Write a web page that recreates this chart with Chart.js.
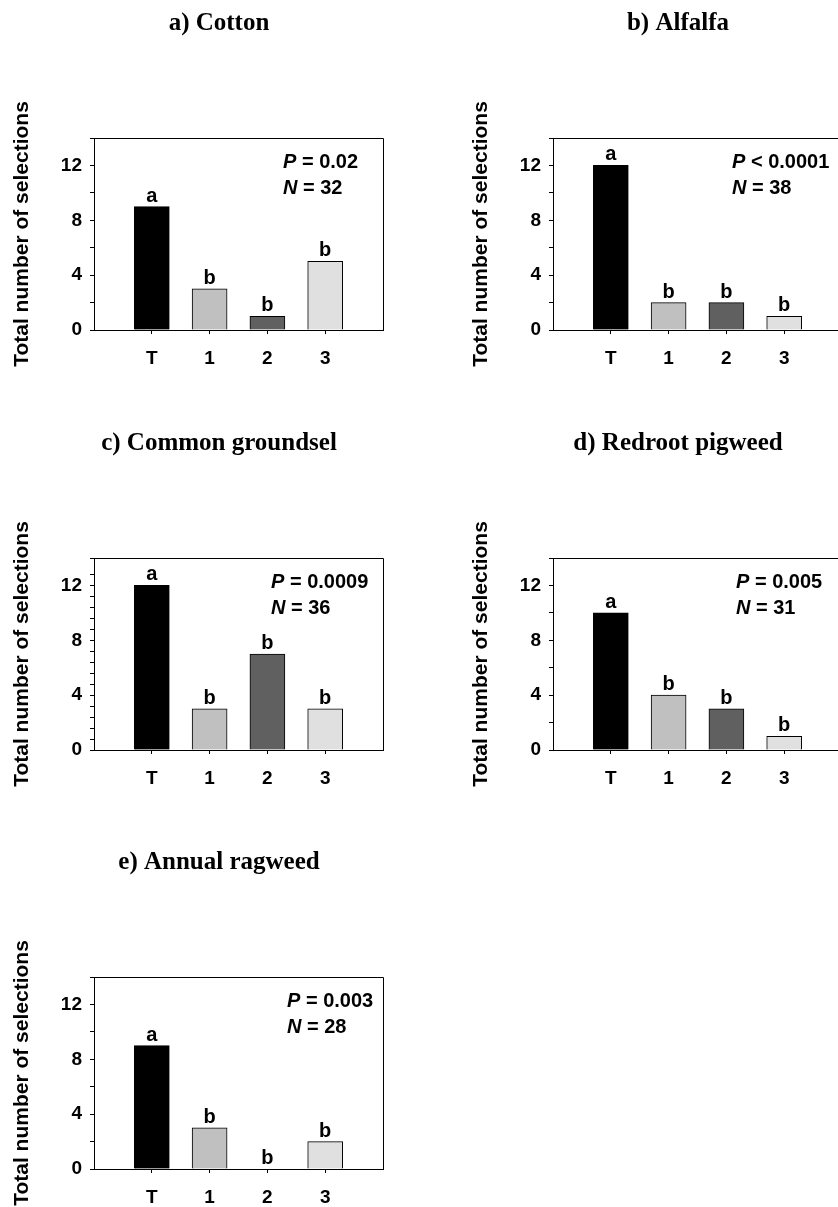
<!DOCTYPE html>
<html>
<head>
<meta charset="utf-8">
<script src="https://cdn.jsdelivr.net/npm/chart.js@4.4.0/dist/chart.umd.min.js"></script>
<style>
html, body { margin: 0; padding: 0; background: #fff; overflow: hidden; width: 838px; height: 1207px; }
canvas { position: absolute; }
</style>
</head>
<body>
<canvas id="chartA" width="438" height="420" style="left:0px;top:0px"></canvas>
<canvas id="chartB" width="438" height="420" style="left:459px;top:0px"></canvas>
<canvas id="chartC" width="438" height="420" style="left:0px;top:420px"></canvas>
<canvas id="chartD" width="438" height="420" style="left:459px;top:420px"></canvas>
<canvas id="chartE" width="438" height="420" style="left:0px;top:839px"></canvas>
<script>
var categories = ['T', '1', '2', '3'];
var yLabels = [0, 4, 8, 12];
var barColors = ['#000000', '#c0c0c0', '#606060', '#e0e0e0'];
var letters = ['a', 'b', 'b', 'b'];

var titles = ['a) Cotton', 'b) Alfalfa', 'c) Common groundsel', 'd) Redroot pigweed', 'e) Annual ragweed'];
var cotton = [9, 3, 1, 5];
var alfalfa = [12, 2, 2, 1];
var groundsel = [12, 3, 7, 3];
var pigweed = [10, 4, 3, 1];
var ragweed = [9, 3, 0, 2];
var pText = ['= 0.02', '< 0.0001', '= 0.0009', '= 0.005', '= 0.003'];
var nText = ['32', '38', '36', '31', '28'];

var sans = 'Liberation Sans';

function drawStat(ctx, sym, rest, x, y) {
    ctx.textAlign = 'left';
    ctx.font = 'italic bold 20px "' + sans + '"';
    ctx.fillText(sym, x, y);
    var w = ctx.measureText(sym).width;
    ctx.font = 'bold 20px "' + sans + '"';
    ctx.fillText(rest, x + w, y);
}

// frame, letters over bars, P / N text and panel title
function panelDecor(idx, values, statX) {
    return {
        id: 'panelDecor',
        afterDraw: function(chart) {
            var ctx = chart.ctx, area = chart.chartArea;
            var xs = chart.scales.x, ys = chart.scales.y;
            ctx.save();
            ctx.strokeStyle = '#000';
            ctx.lineWidth = 1;
            ctx.beginPath();
            ctx.moveTo(area.left, Math.round(area.top) + 0.5);
            ctx.lineTo(Math.round(area.right) + 0.5, Math.round(area.top) + 0.5);
            ctx.lineTo(Math.round(area.right) + 0.5, area.bottom);
            ctx.stroke();

            ctx.fillStyle = '#000';
            ctx.font = 'bold 20px "' + sans + '"';
            ctx.textAlign = 'center';
            ctx.textBaseline = 'alphabetic';
            values.forEach(function(v, i) {
                ctx.fillText(letters[i], xs.getPixelForValue(i + 1), ys.getPixelForValue(v) - 5);
            });

            drawStat(ctx, 'P', ' ' + pText[idx], area.left + statX, area.top + 30);
            drawStat(ctx, 'N', ' = ' + nText[idx], area.left + statX, area.top + 56);

            ctx.font = 'bold 25px "Liberation Serif"';
            ctx.textAlign = 'center';
            ctx.textBaseline = 'middle';
            ctx.fillText(titles[idx], area.left + 125, area.top - 114);
            ctx.restore();
        }
    };
}

function makeChart(id, idx, values, statX, minorStep) {
    var tickFont = { family: sans, size: 19, weight: 'bold' };
    return new Chart(document.getElementById(id).getContext('2d'), {
        type: 'bar',
        data: {
            datasets: [{
                data: values.map(function(v, i) { return { x: i + 1, y: v }; }),
                backgroundColor: barColors,
                borderColor: '#000',
                borderWidth: 1,
                barThickness: 35
            }]
        },
        options: {
            responsive: false,
            animation: false,
            events: [],
            layout: { padding: { top: 138, left: 0, right: 55, bottom: 50 } },
            plugins: { legend: { display: false }, tooltip: { enabled: false } },
            scales: {
                x: {
                    type: 'linear',
                    min: 0,
                    max: 5,
                    offset: false,
                    afterBuildTicks: function(axis) {
                        axis.ticks = axis.ticks.filter(function(t) { return t.value >= 1 && t.value <= 4; });
                    },
                    afterFit: function(axis) { axis.height = 40; },
                    ticks: {
                        stepSize: 1,
                        padding: 13,
                        autoSkip: false,
                        maxRotation: 0,
                        color: '#000',
                        font: tickFont,
                        callback: function(v) { return categories[v - 1]; }
                    },
                    grid: { offset: false, drawOnChartArea: false, tickLength: 4, tickColor: '#000' },
                    border: { color: '#000', width: 1 }
                },
                y: {
                    min: 0,
                    max: 14,
                    afterFit: function(axis) { axis.width = 94; },
                    ticks: {
                        stepSize: minorStep,
                        padding: 8,
                        autoSkip: false,
                        color: '#000',
                        font: tickFont,
                        callback: function(v) { return yLabels.indexOf(v) >= 0 ? v : ''; }
                    },
                    grid: { drawOnChartArea: false, tickLength: 4, tickColor: '#000' },
                    border: { color: '#000', width: 1 },
                    title: {
                        display: true,
                        text: 'Total number of selections',
                        color: '#000',
                        font: { family: sans, size: 21, weight: 'bold' },
                        padding: { top: 10, bottom: 0 }
                    }
                }
            }
        },
        plugins: [panelDecor(idx, values, statX)]
    });
}

makeChart('chartA', 0, cotton, 189, 2);
makeChart('chartB', 1, alfalfa, 179, 2);
makeChart('chartC', 2, groundsel, 177, 0.8);
makeChart('chartD', 3, pigweed, 183, 2);
makeChart('chartE', 4, ragweed, 193, 2);
</script>
</body>
</html>
